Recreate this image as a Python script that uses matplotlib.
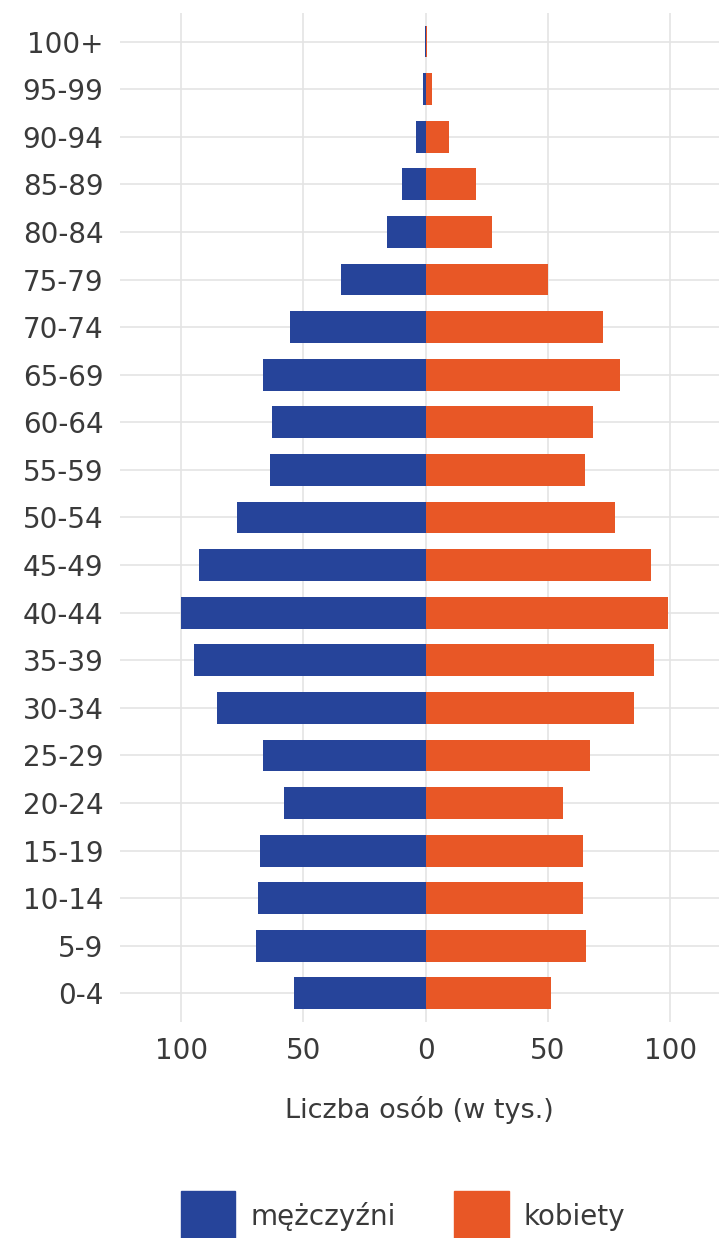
import matplotlib.pyplot as plt
from matplotlib.patches import Patch
import numpy as np

# Age groups, bottom to top
ageGroups = ["0-4", "5-9", "10-14", "15-19", "20-24", "25-29", "30-34", "35-39",
             "40-44", "45-49", "50-54", "55-59", "60-64", "65-69", "70-74", "75-79",
             "80-84", "85-89", "90-94", "95-99", "100+"]

# Population in thousands
menValues = [53.8, 69.4, 68.5, 67.7, 57.8, 66.4, 85.2, 94.7, 100.2, 92.7, 77.1,
             63.8, 63.0, 66.6, 55.3, 34.7, 15.8, 9.6, 3.9, 1.0, 0.3]
womenValues = [51.4, 65.5, 64.5, 64.2, 56.3, 67.2, 85.2, 93.6, 99.2, 92.1, 77.3,
               65.1, 68.5, 79.5, 72.6, 49.9, 27.2, 20.6, 9.4, 2.4, 0.5]

xTicks = [-100, -50, 0, 50, 100]

blueColor = "#26449a"
orangeColor = "#e85726"
textColor = "#3a3a3a"

plt.rcParams['font.family'] = ['DejaVu Sans']

fig = plt.figure(figsize=(7.19, 12.38), dpi=100)
ax = fig.add_axes([0.167, 0.1745, 0.833, 0.815])

yPos = np.arange(len(ageGroups))
ax.barh(yPos, -np.array(menValues), height=0.67, color=blueColor, zorder=3)
ax.barh(yPos, womenValues, height=0.67, color=orangeColor, zorder=3)

# Axis setup
ax.set_xlim(-125, 120)
ax.set_ylim(-0.6, len(ageGroups) - 0.4)
ax.set_yticks(yPos)
ax.set_yticklabels(ageGroups)
ax.set_xticks(xTicks)
ax.set_xticklabels([str(abs(t)) for t in xTicks])
ax.tick_params(axis='both', length=0, labelsize=20, colors=textColor)
ax.tick_params(axis='y', pad=12)
ax.tick_params(axis='x', pad=11)
ax.set_xlabel("Liczba osób (w tys.)", fontsize=19.5, color=textColor, labelpad=22)

ax.grid(True, color="#e4e4e4", linewidth=1.2, zorder=0)
for spine in ax.spines.values():
    spine.set_visible(False)

# Legend at the bottom
handles = [Patch(color=blueColor, label="mężczyźni"),
           Patch(color=orangeColor, label="kobiety")]
fig.legend(handles=handles, loc='center', bbox_to_anchor=(0.561, 0.017), ncol=2,
           frameon=False, fontsize=20, handlelength=1.95, handleheight=2.5,
           handletextpad=0.55, columnspacing=2.1, labelcolor=textColor)

plt.savefig("out.png", dpi=100)
